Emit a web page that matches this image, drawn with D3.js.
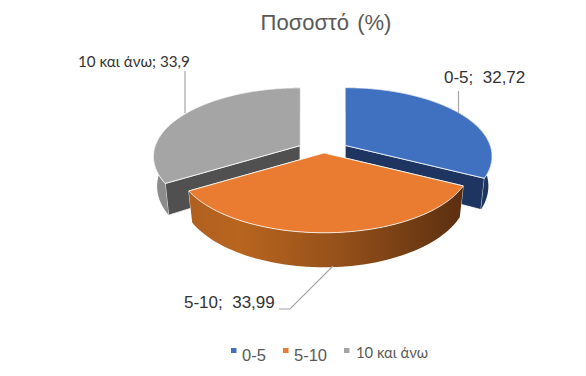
<!DOCTYPE html>
<html>
<head>
<meta charset="utf-8">
<script src="https://cdnjs.cloudflare.com/ajax/libs/d3/7.8.5/d3.min.js"></script>
<style>
html, body { margin: 0; padding: 0; background: #fff; }
svg { display: block; }
</style>
</head>
<body>
<svg width="586" height="376"></svg>
<script>
"use strict"

const categories = ["0-5", "5-10", "10 και άνω"]
const values = [32.72, 33.99, 33.9]
const valueLabels = ["32,72", "33,99", "33,9"]
const topColors = ["#4070c0", "#e97c30", "#a5a5a5"]
const wallColors = ["#1d3560", "#5a5a5a", "#505050"]
const outerColors = ["#1d3560", "url(#orangeWall)", "#8c8c8c"]

const svg = d3.select("svg")

// flat pie projected to a tilted disc with a bit of perspective
const centerX = 323, centerY = 148
const radiusX = 145, radiusY = 67
const perspective = 0.16
const depth = 29
const explodeX = 26, explodeY = 5

function project(slice, angle, r, z) {
    const mid = (slice.startAngle + slice.endAngle) / 2
    const u = Math.sin(angle) * r
    const v = -Math.cos(angle) * r
    const s = 1 / (1 - perspective * v)
    const inward = 1 - 0.025 * z
    return [
        centerX + explodeX * Math.sin(mid) + radiusX * u * s * inward,
        centerY - explodeY * Math.cos(mid) + radiusY * v * s + depth * s * z
    ]
}

function arcPoints(slice, z) {
    const angles = d3.range(0, 61).map(i => slice.startAngle + (slice.endAngle - slice.startAngle) * i / 60)
    return angles.map(a => project(slice, a, 1, z))
}

const line = d3.line()
const pie = d3.pie().sort(null).value(d => d)
const slices = pie(values)

const defs = svg.append("defs")
const grad = defs.append("linearGradient").attr("id", "orangeWall")
grad.append("stop").attr("offset", "0%").attr("stop-color", "#b0601f")
grad.append("stop").attr("offset", "18%").attr("stop-color", "#b8651f")
grad.append("stop").attr("offset", "55%").attr("stop-color", "#95501a")
grad.append("stop").attr("offset", "100%").attr("stop-color", "#5a2f10")

const pieGroup = svg.append("g")

function drawSlice(slice, i) {
    const g = pieGroup.append("g")
    const top = arcPoints(slice, 0)
    const bottom = arcPoints(slice, 1)
    const apexTop = project(slice, 0, 0, 0)
    const apexBottom = project(slice, 0, 0, 1)

    // cut faces
    const faces = [
        [apexTop, top[0], bottom[0], apexBottom],
        [apexTop, top[top.length - 1], bottom[bottom.length - 1], apexBottom]
    ]
    faces.forEach(f => {
        g.append("path")
            .attr("d", line(f) + "Z")
            .attr("fill", wallColors[i])
            .attr("stroke", "#fff")
            .attr("stroke-width", 0.8)
    })

    // outer rim
    g.append("path")
        .attr("d", line(top.concat(bottom.slice().reverse())) + "Z")
        .attr("fill", outerColors[i])

    // top surface
    g.append("path")
        .attr("d", line([apexTop].concat(top)) + "Z")
        .attr("fill", topColors[i])
        .attr("stroke", "#fff")
        .attr("stroke-width", 0.8)
        .attr("stroke-linejoin", "round")
}

// orange goes last, it sits in front of the other two
drawSlice(slices[2], 2)
drawSlice(slices[0], 0)
drawSlice(slices[1], 1)

// title
svg.append("text")
    .attr("x", 326).attr("y", 30)
    .attr("text-anchor", "middle")
    .attr("font-family", "Liberation Sans")
    .attr("font-size", 22)
    .attr("word-spacing", 2)
    .attr("fill", "#595959")
    .text("Ποσοστό (%)")

// leader lines
const leaders = [
    [[458.5, 91], [458.5, 113]],
    [[333, 266], [290, 309], [279, 309]],
    [[185, 71], [185, 113]]
]
svg.append("g").selectAll("path")
    .data(leaders)
    .enter()
    .append("path")
    .attr("d", d => line(d))
    .attr("fill", "none")
    .attr("stroke", "#a6a6a6")
    .attr("stroke-width", 1.2)

// data labels
const labelPos = [[444, 83, "Liberation Sans", 17], [184, 308, "Liberation Sans", 17], [78, 66.5, "Lato", 15.2]]
svg.append("g").selectAll("text")
    .data(categories)
    .enter()
    .append("text")
    .attr("x", (d, i) => labelPos[i][0])
    .attr("y", (d, i) => labelPos[i][1])
    .attr("font-family", (d, i) => labelPos[i][2])
    .attr("font-size", (d, i) => labelPos[i][3])
    .attr("fill", "#333")
    .style("white-space", "pre")
    .text((d, i) => i === 2 ? d + "; " + valueLabels[i] : d + ";  " + valueLabels[i])

// legend
const legendX = [231, 283, 344]
const legendTextX = [11, 11, 12]
const legendY = [361, 361, 358]
const legendFont = ["Liberation Sans", "Liberation Sans", "Lato"]
const legend = svg.append("g").selectAll("g")
    .data(categories)
    .enter()
    .append("g")
    .attr("transform", (d, i) => "translate(" + legendX[i] + ",0)")
legend.append("rect")
    .attr("y", 348).attr("width", 5.5).attr("height", 5)
    .attr("fill", (d, i) => topColors[i])
legend.append("text")
    .attr("x", (d, i) => legendTextX[i])
    .attr("y", (d, i) => legendY[i])
    .attr("font-family", (d, i) => legendFont[i])
    .attr("font-size", (d, i) => i === 2 ? 14.8 : 16.5)
    .attr("fill", "#595959")
    .text(d => d)
</script>
</body>
</html>
